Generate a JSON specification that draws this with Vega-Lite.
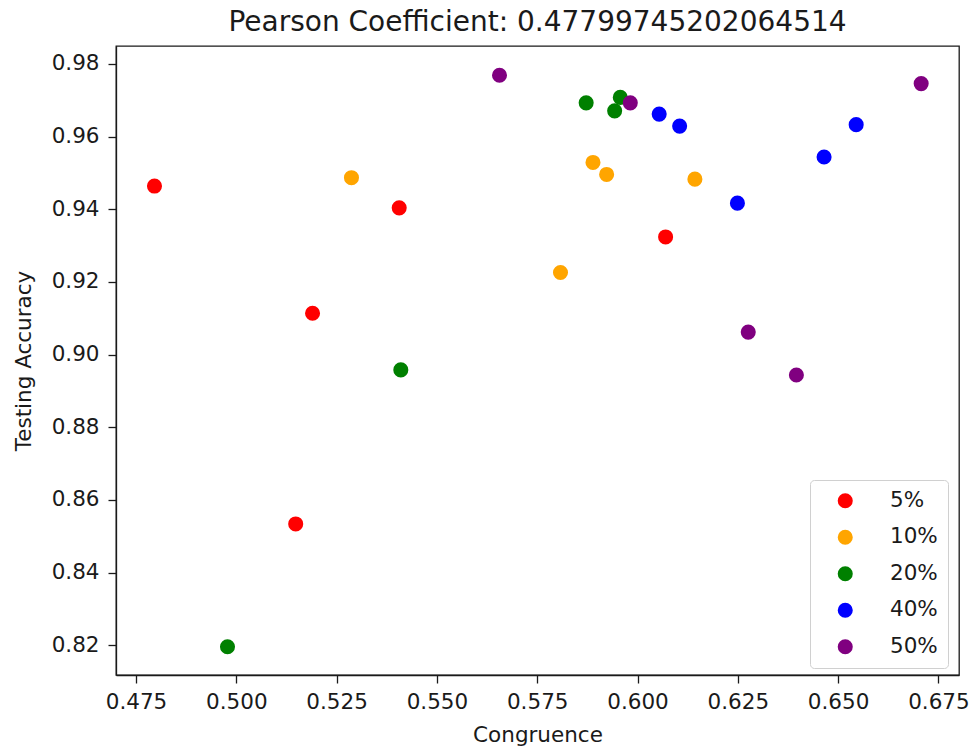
{
  "$schema": "https://vega.github.io/schema/vega-lite/v6.json",
  "width": 843,
  "height": 629,
  "autosize": "none",
  "padding": {"left": 116, "top": 46, "right": 20, "bottom": 79},
  "background": "white",
  "title": {
    "text": "Pearson Coefficient: 0.47799745202064514",
    "font": "DejaVu Sans",
    "fontSize": 28,
    "fontWeight": "normal",
    "color": "#1a1a1a",
    "anchor": "middle",
    "offset": 9
  },
  "config": {
    "view": {"stroke": "#1a1a1a", "strokeWidth": 1.3},
    "axis": {
      "labelFont": "DejaVu Sans",
      "titleFont": "DejaVu Sans",
      "labelFontSize": 21.5,
      "titleFontSize": 21.5,
      "titleFontWeight": "normal",
      "labelColor": "#1a1a1a",
      "titleColor": "#1a1a1a",
      "domainColor": "#1a1a1a",
      "domainWidth": 1.3,
      "tickColor": "#1a1a1a",
      "tickWidth": 1.3,
      "tickSize": 8,
      "grid": false
    }
  },
  "data": {
    "values": [
      {"congruence": 0.4796, "accuracy": 0.9464, "noise": "5%"},
      {"congruence": 0.5406, "accuracy": 0.9404, "noise": "5%"},
      {"congruence": 0.5190, "accuracy": 0.9114, "noise": "5%"},
      {"congruence": 0.5148, "accuracy": 0.8534, "noise": "5%"},
      {"congruence": 0.6070, "accuracy": 0.9324, "noise": "5%"},
      {"congruence": 0.5287, "accuracy": 0.9487, "noise": "10%"},
      {"congruence": 0.5808, "accuracy": 0.9226, "noise": "10%"},
      {"congruence": 0.5889, "accuracy": 0.9529, "noise": "10%"},
      {"congruence": 0.5923, "accuracy": 0.9496, "noise": "10%"},
      {"congruence": 0.6143, "accuracy": 0.9483, "noise": "10%"},
      {"congruence": 0.4978, "accuracy": 0.8196, "noise": "20%"},
      {"congruence": 0.5410, "accuracy": 0.8958, "noise": "20%"},
      {"congruence": 0.5872, "accuracy": 0.9693, "noise": "20%"},
      {"congruence": 0.5943, "accuracy": 0.9671, "noise": "20%"},
      {"congruence": 0.5957, "accuracy": 0.9708, "noise": "20%"},
      {"congruence": 0.6054, "accuracy": 0.9662, "noise": "40%"},
      {"congruence": 0.6105, "accuracy": 0.9629, "noise": "40%"},
      {"congruence": 0.6249, "accuracy": 0.9417, "noise": "40%"},
      {"congruence": 0.6465, "accuracy": 0.9544, "noise": "40%"},
      {"congruence": 0.6545, "accuracy": 0.9633, "noise": "40%"},
      {"congruence": 0.5656, "accuracy": 0.9769, "noise": "50%"},
      {"congruence": 0.5982, "accuracy": 0.9693, "noise": "50%"},
      {"congruence": 0.6276, "accuracy": 0.9062, "noise": "50%"},
      {"congruence": 0.6396, "accuracy": 0.8944, "noise": "50%"},
      {"congruence": 0.6707, "accuracy": 0.9746, "noise": "50%"}
    ]
  },
  "mark": {"type": "point", "filled": true, "opacity": 1, "size": 227, "shape": "circle"},
  "encoding": {
    "x": {
      "field": "congruence",
      "type": "quantitative",
      "title": "Congruence",
      "scale": {"domain": [0.47001, 0.68013], "zero": false, "nice": false},
      "axis": {
        "values": [0.475, 0.5, 0.525, 0.55, 0.575, 0.6, 0.625, 0.65, 0.675],
        "format": ".3f",
        "labelPadding": 8,
        "titlePadding": 12
      }
    },
    "y": {
      "field": "accuracy",
      "type": "quantitative",
      "title": "Testing Accuracy",
      "scale": {"domain": [0.81182, 0.98495], "zero": false, "nice": false},
      "axis": {
        "values": [0.82, 0.84, 0.86, 0.88, 0.9, 0.92, 0.94, 0.96, 0.98],
        "format": ".2f",
        "labelPadding": 9,
        "titlePadding": 16
      }
    },
    "color": {
      "field": "noise",
      "type": "nominal",
      "scale": {
        "domain": ["5%", "10%", "20%", "40%", "50%"],
        "range": ["#ff0000", "#ffa500", "#008000", "#0000ff", "#800080"]
      },
      "legend": {
        "title": null,
        "orient": "none",
        "legendX": 694,
        "legendY": 434,
        "padding": 10,
        "fillColor": "white",
        "strokeColor": "#d0d0d0",
        "cornerRadius": 4,
        "symbolType": "circle",
        "symbolSize": 227,
        "symbolStrokeWidth": 0,
        "symbolOffset": 14.5,
        "labelOffset": 34,
        "labelFont": "DejaVu Sans",
        "labelFontSize": 21.5,
        "labelColor": "#1a1a1a",
        "rowPadding": 13.5
      }
    }
  }
}
